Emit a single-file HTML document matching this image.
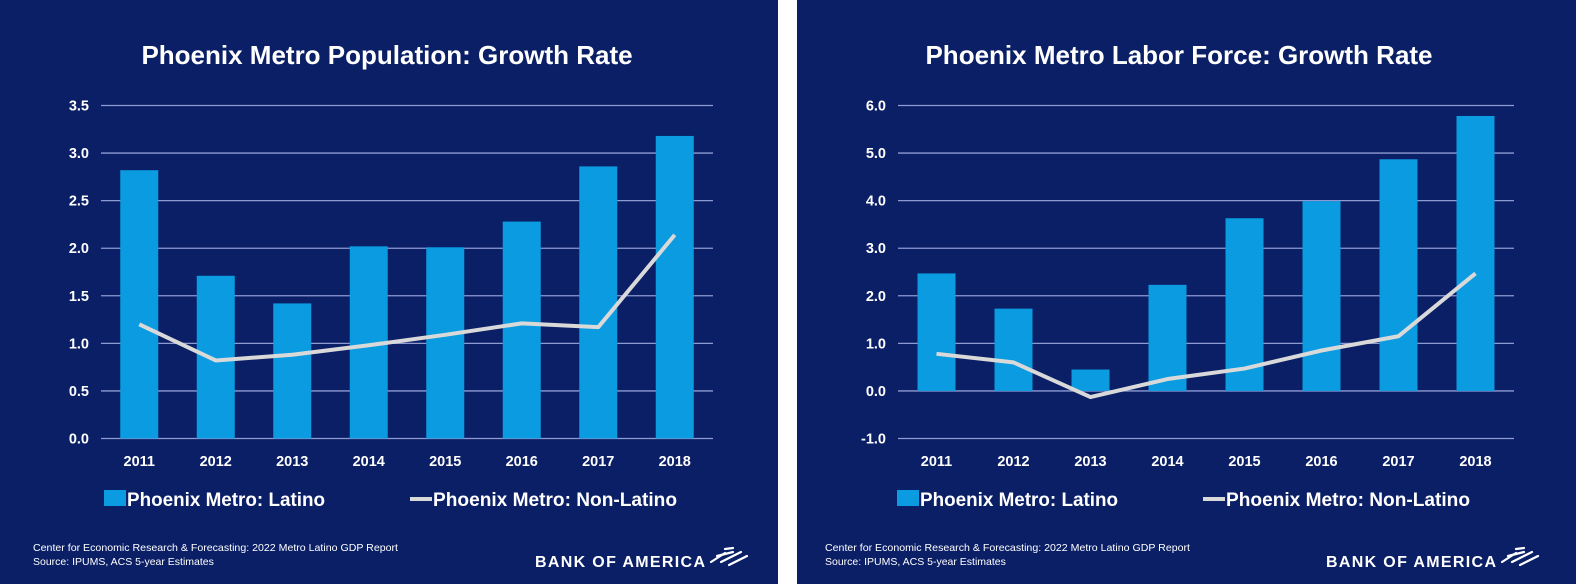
<!DOCTYPE html>
<html><head><meta charset="utf-8"><style>
body{margin:0;width:1576px;height:584px;background:#fff;overflow:hidden;font-family:"Liberation Sans",sans-serif}
svg{position:absolute;top:0}
</style></head><body>
<svg id="left" style="left:0" width="778" height="584"></svg>
<svg id="right" style="left:797px" width="779" height="584"></svg>
<script>
const years = ["2011","2012","2013","2014","2015","2016","2017","2018"];
const popLatino = [2.82,1.71,1.42,2.02,2.01,2.28,2.86,3.18];
const popNonLatino = [1.20,0.82,0.88,0.98,1.09,1.21,1.17,2.14];
const popTicks = ["0.0","0.5","1.0","1.5","2.0","2.5","3.0","3.5"];
const labLatino = [2.47,1.73,0.45,2.23,3.63,3.99,4.87,5.78];
const labNonLatino = [0.78,0.60,-0.13,0.25,0.47,0.85,1.15,2.47];
const labTicks = ["-1.0","0.0","1.0","2.0","3.0","4.0","5.0","6.0"];

const NS="http://www.w3.org/2000/svg";
function mk(parent,tag,attrs,text){const e=document.createElementNS(NS,tag);for(const k in attrs)e.setAttribute(k,attrs[k]);if(text!==undefined)e.textContent=text;parent.appendChild(e);return e;}

function draw(svg,opt){
  const W=+svg.getAttribute('width');
  const bg=mk(svg,'rect',{x:0,y:0,width:W,height:584,fill:'#0b1f66'});
  
  
  const t=mk(svg,'text',{x:opt.titleX,y:64,fill:'#fff','font-size':26,'font-weight':'bold','text-anchor':'middle'},opt.title);
  
  
  const x0=opt.x0, step=opt.step, top=105.5, bot=438.5;
  const ymin=+opt.ticks[0], ymax=+opt.ticks[opt.ticks.length-1];
  const y=v=>bot-(v-ymin)/(ymax-ymin)*(bot-top);
  const xc=i=>x0+step*(i+0.5);
  opt.ticks.forEach(tk=>{
    const g=mk(svg,'line',{x1:x0,x2:x0+step*years.length,y1:y(+tk),y2:y(+tk),stroke:'#8e9ad2','stroke-width':1.3});
    
    
    const l=mk(svg,'text',{x:x0-12,y:y(+tk)+5,fill:'#fff','font-size':14.5,'font-weight':'bold','text-anchor':'end'},tk);
    
    
  });
  opt.latino.forEach((v,i)=>{
    const y0=y(0),yv=y(v);
    const b=mk(svg,'rect',{x:xc(i)-19,y:Math.min(y0,yv),width:38,height:Math.abs(y0-yv),fill:'#0a9be0'});
    
    
  });
  const pts=opt.non.map((v,i)=>xc(i)+','+y(v)).join(' ');
  const pl=mk(svg,'polyline',{points:pts,fill:'none',stroke:'#d9d9d9','stroke-width':4,'stroke-linejoin':'round'});
  
  
  years.forEach((yr,i)=>{
    const l=mk(svg,'text',{x:xc(i),y:466,fill:'#fff','font-size':14.5,'font-weight':'bold','text-anchor':'middle'},yr);
    
    
  });
  const lx=opt.lx;
  const s=mk(svg,'rect',{x:lx,y:490,width:22,height:16,fill:'#0a9be0'});
  
  
  const lt=mk(svg,'text',{x:lx+23,y:506,fill:'#fff','font-size':19,'font-weight':'bold',textLength:198,lengthAdjust:'spacingAndGlyphs'},'Phoenix Metro: Latino');
  
  
  const ll=mk(svg,'line',{x1:lx+306,x2:lx+328,y1:499,y2:499,stroke:'#d9d9d9','stroke-width':4});
  
  
  const lt2=mk(svg,'text',{x:lx+329,y:506,fill:'#fff','font-size':19,'font-weight':'bold',textLength:244,lengthAdjust:'spacingAndGlyphs'},'Phoenix Metro: Non-Latino');
  
  
  const f1=mk(svg,'text',{x:opt.fx,y:551,fill:'#fff','font-size':10.5,textLength:365,lengthAdjust:'spacingAndGlyphs'},'Center for Economic Research & Forecasting: 2022 Metro Latino GDP Report');
  
  
  const f2=mk(svg,'text',{x:opt.fx,y:565,fill:'#fff','font-size':10.5},'Source: IPUMS, ACS 5-year Estimates');
  
  
  const bx=opt.bx;
  const bt=mk(svg,'text',{x:bx,y:567,fill:'#fff','font-size':16,'font-weight':'bold',textLength:170,lengthAdjust:'spacing'},'BANK OF AMERICA');
  
  
  const fl=mk(svg,'g',{stroke:'#fff','stroke-width':2.2,fill:'none','stroke-linecap':'round'});
  
  
  const fx0=bx+176;
  mk(fl,'line',{x1:fx0+14,y1:549,x2:fx0+22,y2:548});
  mk(fl,'line',{x1:fx0+6,y1:556,x2:fx0+22,y2:552});
  mk(fl,'line',{x1:fx0,y1:562,x2:fx0+14,y2:553});
  mk(fl,'line',{x1:fx0+10,y1:562,x2:fx0+30,y2:552});
  mk(fl,'line',{x1:fx0+18,y1:565,x2:fx0+36,y2:556});
}
draw(document.getElementById('left'),{title:'Phoenix Metro Population: Growth Rate',titleX:387,x0:101,step:76.5,ticks:popTicks,latino:popLatino,non:popNonLatino,lx:104,fx:33,bx:535});
draw(document.getElementById('right'),{title:'Phoenix Metro Labor Force: Growth Rate',titleX:382,x0:101,step:77,ticks:labTicks,latino:labLatino,non:labNonLatino,lx:100,fx:28,bx:529});
</script>
</body></html>
